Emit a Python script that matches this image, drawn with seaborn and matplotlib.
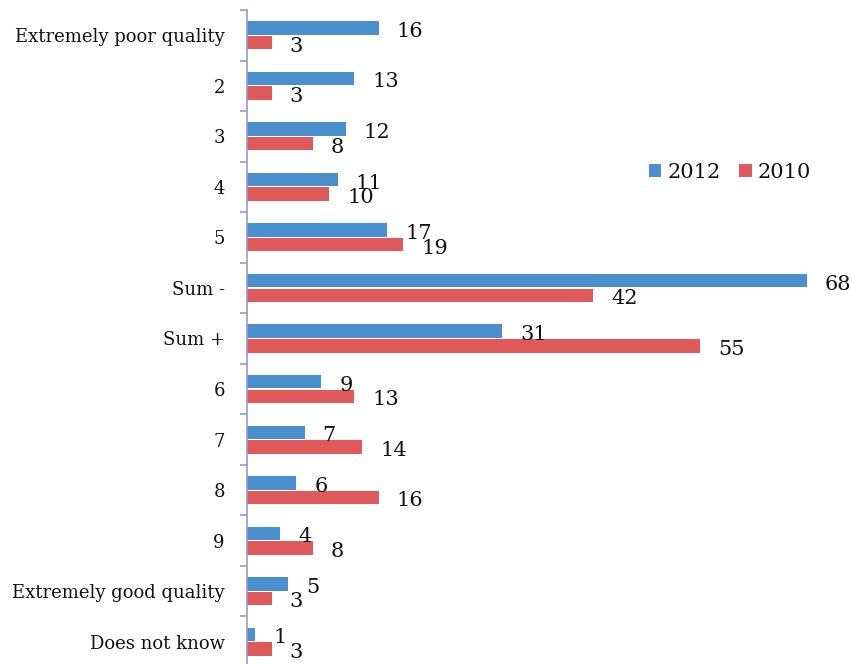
import matplotlib
matplotlib.use("Agg")
import matplotlib.pyplot as plt
import seaborn as sns
import pandas as pd
import numpy as np

categories = ["Extremely poor quality", "2", "3", "4", "5", "Sum -", "Sum +",
              "6", "7", "8", "9", "Extremely good quality", "Does not know"]
values_2012 = [16, 13, 12, 11, 17, 68, 31, 9, 7, 6, 4, 5, 1]
values_2010 = [3, 3, 8, 10, 19, 42, 55, 13, 14, 16, 8, 3, 3]
series = ["2012", "2010"]
colors = ["#4a8fce", "#e05a5c"]

sns.set_style("white")
plt.rcParams['font.family'] = ['DejaVu Serif', 'DejaVu Sans']
plt.rcParams['text.color'] = "#111111"

df = pd.DataFrame({
    "category": categories * 2,
    "value": values_2012 + values_2010,
    "year": [series[0]] * len(categories) + [series[1]] * len(categories),
})

W, H = 853, 664
fig = plt.figure(figsize=(W / 100, H / 100), dpi=100)
left, right = 247, 807
top, bottom = 10, 667
ax = fig.add_axes([left / W, 1 - bottom / H, (right - left) / W, (bottom - top) / H])

sns.barplot(data=df, y="category", x="value", hue="year", order=categories,
            hue_order=series, palette=colors, saturation=1, orient="h",
            width=0.58, gap=0.08, linewidth=0, ax=ax, legend=True)

ax.set_xlim(0, 68)
ax.set_ylim(len(categories) - 0.5, -0.5)
ax.set_xlabel("")
ax.set_ylabel("")
ax.set_xticks([])
for s in ["top", "right", "bottom"]:
    ax.spines[s].set_visible(False)
ax.spines["left"].set_color("#9a9ac8")
ax.spines["left"].set_linewidth(1.2)

ax.set_yticks(range(len(categories)))
ax.set_yticklabels(categories, fontsize=13, color="#111111")
ax.tick_params(axis="y", which="major", length=0, pad=16)
ax.set_yticks(np.arange(-0.5, len(categories), 1), minor=True)
ax.tick_params(axis="y", which="minor", length=5, width=1.2, color="#9a9ac8", left=True)

for container in ax.containers:
    for bar in container:
        w = bar.get_width()
        yc = bar.get_y() + bar.get_height() / 2
        ax.annotate(f"{w:g}", xy=(w, yc), xytext=(13, -2.5), textcoords="offset points",
                    ha="left", va="center", fontsize=15, annotation_clip=False)

leg = ax.get_legend()
handles, labels = ax.get_legend_handles_labels()
leg.remove()
fig.legend(handles, labels, loc="center", bbox_to_anchor=(730 / W, 1 - 172 / H),
           ncol=2, frameon=False, fontsize=15, handlelength=0.6, handleheight=0.6,
           handletextpad=0.3, columnspacing=0.9)

fig.savefig("out.png", dpi=100)
